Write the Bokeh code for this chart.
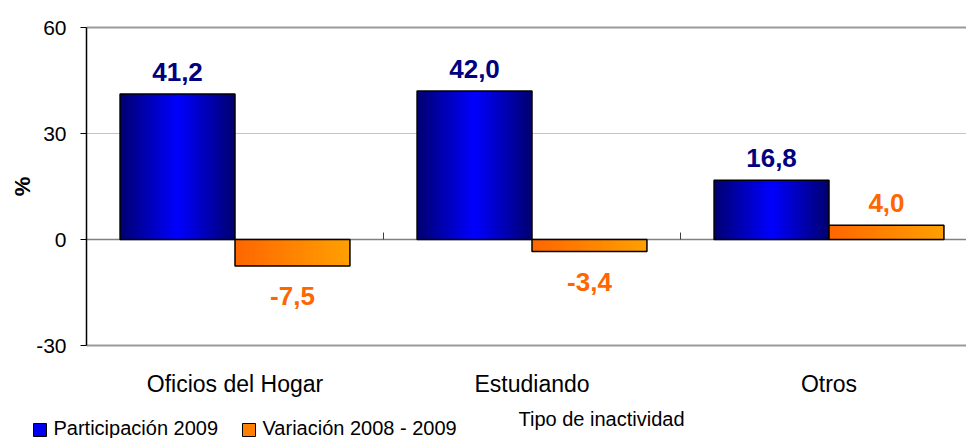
from bokeh.plotting import figure
from bokeh.layouts import column, row
from bokeh.models import Range1d, FixedTicker, Span
from bokeh.core.properties import value
from bokeh.embed import file_html
from bokeh.resources import INLINE

# ---------------- data ----------------
categories = ["Oficios del Hogar", "Estudiando", "Otros"]
participacion_2009 = [41.2, 42.0, 16.8]
variacion_2008_2009 = [-7.5, -3.4, 4.0]
series_names = ["Participación 2009", "Variación 2008 - 2009"]
y_ticks = [-30, 0, 30, 60]
x_axis_title = "Tipo de inactividad"
y_axis_title = "%"

# ---------------- layout / style constants ----------------
FONT = "Liberation Sans"
W = 966
H_MAIN, H_LEG = 405, 33
FRAME_LEFT, FRAME_TOP, FRAME_BOTTOM_BORDER = 86, 25, 58
PAD = 2
PX_PER_UNIT = 318 / 90
CAT_PX = 297
BAR_W = 0.387
BLUE_DARK, BLUE_LIGHT = (0, 0, 112), (0, 0, 255)
ORANGE_L, ORANGE_R = (255, 102, 0), (255, 160, 0)
LABEL_COLORS = ["#000080", "#FF6600"]
LEGEND_COLORS = ["#0000EE", "#FF7F00"]
BASELINE_FIX = 9

y_max = max(y_ticks) + PAD / PX_PER_UNIT
y_min = min(y_ticks) - PAD / PX_PER_UNIT
x_max = (W - FRAME_LEFT) / CAT_PX

p = figure(width=W, height=H_MAIN, output_backend="svg", toolbar_location=None,
           x_range=Range1d(0, x_max), y_range=Range1d(y_min, y_max),
           min_border_left=FRAME_LEFT, min_border_top=FRAME_TOP,
           min_border_right=0, min_border_bottom=FRAME_BOTTOM_BORDER)
p.outline_line_color = None
p.xgrid.grid_line_color = None
p.ygrid.grid_line_color = None

# y axis
ya = p.yaxis[0]
ya.ticker = FixedTicker(ticks=y_ticks)
ya.major_label_overrides = {t: str(t) for t in y_ticks}
ya.bounds = (min(y_ticks), max(y_ticks))
ya.axis_line_color = "black"
ya.axis_line_width = 1.5
ya.major_tick_line_color = "black"
ya.major_tick_out = 6
ya.major_tick_in = 0
ya.minor_tick_line_color = None
ya.major_label_text_font = FONT
ya.major_label_text_font_size = "21px"
ya.major_label_text_color = "black"
ya.major_label_standoff = 14
ya.axis_label = y_axis_title
ya.axis_label_text_font = FONT
ya.axis_label_text_font_size = "22px"
ya.axis_label_text_font_style = "bold"
ya.axis_label_text_color = "black"
ya.axis_label_standoff = -2

# x axis: category names
cat_x = [i + 0.5 for i in range(len(categories))]
xa = p.xaxis[0]
xa.ticker = FixedTicker(ticks=cat_x)
xa.major_label_overrides = {c: n for c, n in zip(cat_x, categories)}
xa.axis_line_color = None
xa.major_tick_line_color = None
xa.minor_tick_line_color = None
xa.major_label_text_font = FONT
xa.major_label_text_font_size = "23px"
xa.major_label_text_color = "black"
xa.major_label_standoff = 17

# horizontal lines (plot-area border / gridline / zero axis)
for t in y_ticks:
    if t in (max(y_ticks), min(y_ticks)):
        col, lw = "#9a9a9a", 2
    elif t == 0:
        col, lw = "#808080", 1.5
    else:
        col, lw = "#c4c4c4", 1
    p.add_layout(Span(location=t, dimension="width", line_color=col,
                      line_width=lw, level="underlay"))

# category tick marks on the zero line
bx = list(range(1, len(categories)))
p.segment(x0=bx, y0=[0] * len(bx), x1=bx, y1=[7 / PX_PER_UNIT] * len(bx),
          line_color="#404040", line_width=1)

# ---------------- gradient bars ----------------
N = 40
def mix(a, b, t):
    return "#%02x%02x%02x" % tuple(int(round(a[i] + (b[i] - a[i]) * t)) for i in range(3))

def blue_col(t):
    return mix(BLUE_DARK, BLUE_LIGHT, 1 - abs(2 * t - 1))

def orange_col(t):
    return mix(ORANGE_L, ORANGE_R, t)

series = [(participacion_2009, -1, blue_col), (variacion_2008_2009, 0, orange_col)]

for s, (vals, side, colfn) in enumerate(series):
    L, R, T, B, C = [], [], [], [], []
    centers = []
    for i, v in enumerate(vals):
        x0 = i + 0.5 + side * BAR_W
        centers.append(x0 + BAR_W / 2)
        for k in range(N):
            l = x0 + k * BAR_W / N
            L.append(l)
            R.append(min(l + 2 * BAR_W / N, x0 + BAR_W))
            T.append(max(v, 0))
            B.append(min(v, 0))
            C.append(colfn((k + 0.5) / N))
    p.quad(left=L, right=R, top=T, bottom=B, fill_color=C, line_color=None)
    p.vbar(x=centers, width=BAR_W, top=vals, bottom=0, fill_color=None,
           line_color="black", line_width=1.5)
    labels = [("%.1f" % v).replace(".", ",") for v in vals]
    offs = [-22 if v >= 0 else 30 for v in vals]
    p.text(x=centers, y=vals, text=labels, text_font=value(FONT),
           text_font_style="bold", text_font_size="26px", text_color=LABEL_COLORS[s],
           text_align="center", text_baseline="alphabetic", y_offset=offs)

# ---------------- legend row (own strip, page-pixel coordinates) ----------------
top = H_MAIN
q = figure(width=W, height=H_LEG, output_backend="svg", toolbar_location=None,
           x_range=Range1d(0, W), y_range=Range1d(top + H_LEG, top),
           min_border=0, x_axis_location=None, y_axis_location=None)
q.outline_line_color = None
q.xgrid.grid_line_color = None
q.ygrid.grid_line_color = None

sq_x = [39.5, 248.5]
q.rect(x=sq_x, y=[429.5] * 2, width=13, height=13, fill_color=LEGEND_COLORS,
       line_color="black", line_width=1)
q.text(x=[x + 13.5 for x in sq_x], y=[436 - BASELINE_FIX] * 2, text=series_names,
       text_font=value(FONT), text_font_size="20px", text_color="black",
       text_align="left", text_baseline="alphabetic")
q.text(x=[518], y=[427 - BASELINE_FIX], text=[x_axis_title],
       text_font=value(FONT), text_font_size="20px", text_color="black",
       text_align="left", text_baseline="alphabetic")

layout = column(p, row(q, spacing=0), spacing=0)
open("out.html", "w").write(file_html(layout, INLINE))
